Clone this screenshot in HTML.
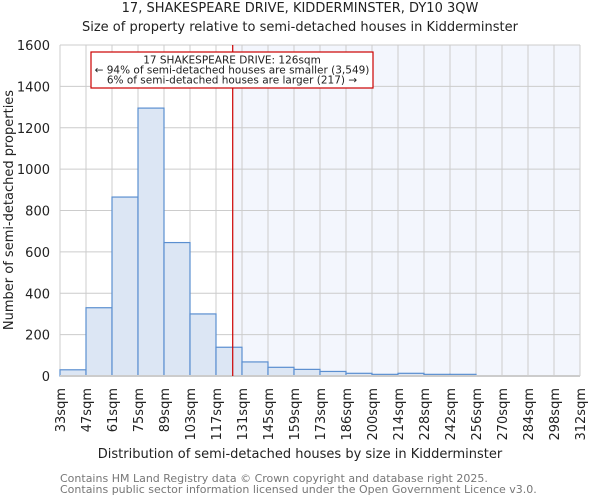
<!DOCTYPE html>
<html><head><meta charset="utf-8"><style>
body{margin:0;background:#fff;}
svg{display:block;font-family:"DejaVu Sans","Liberation Sans",sans-serif;}
</style></head><body>
<svg id="c" width="600" height="500">
<text x="300" y="12" font-size="13" text-anchor="middle" fill="#222">17, SHAKESPEARE DRIVE, KIDDERMINSTER, DY10 3QW</text>
<text x="300" y="31" font-size="13" text-anchor="middle" fill="#222">Size of property relative to semi-detached houses in Kidderminster</text>
<g id="grid"></g><g id="bars"></g><g id="axes"></g>
<text x="300" y="458" font-size="13" text-anchor="middle" fill="#222">Distribution of semi-detached houses by size in Kidderminster</text>
<text transform="translate(13,210) rotate(-90)" font-size="13" text-anchor="middle" fill="#222">Number of semi-detached properties</text>
<text x="60" y="482" font-size="11" fill="#777">Contains HM Land Registry data © Crown copyright and database right 2025.</text>
<text x="60" y="493" font-size="11" fill="#777">Contains public sector information licensed under the Open Government Licence v3.0.</text>
</svg>
<script>
const categories=["33sqm","47sqm","61sqm","75sqm","89sqm","103sqm","117sqm","131sqm","145sqm","159sqm","173sqm","186sqm","200sqm","214sqm","228sqm","242sqm","256sqm","270sqm","284sqm","298sqm","312sqm"];
const counts=[30,330,865,1295,645,300,139,68,42,32,22,13,8,13,8,8,0,0,0,0,0];
const yTicks=[0,200,400,600,800,1000,1200,1400,1600];
const subjectSize=126;
const ns="http://www.w3.org/2000/svg";
const X0=60,X1=580,Y0=376,Y1=45,YMAX=1600,NB=20;
const bw=(X1-X0)/NB;
const xs=i=>X0+i*bw;
const ys=v=>Y0-(v/YMAX)*(Y0-Y1);
const sizeX=s=>{const e=categories.map(c=>parseFloat(c));for(let i=0;i<e.length-1;i++){if(s>=e[i]&&s<=e[i+1])return xs(i)+(s-e[i])/(e[i+1]-e[i])*bw;}return X1;};
function mk(t,a,p){const e=document.createElementNS(ns,t);for(const k in a)e.setAttribute(k,a[k]);p.appendChild(e);return e;}
const g=document.getElementById('grid'),b=document.getElementById('bars'),ax=document.getElementById('axes');
const rx=sizeX(subjectSize);
const hl=mk('rect',{x:rx,y:Y1,width:X1-rx,height:Y0-Y1,fill:'#f3f6fd'},g);


for(let i=0;i<=NB;i++){const l=mk('line',{x1:xs(i),x2:xs(i),y1:Y1,y2:Y0,stroke:'#ccc','stroke-width':1},g);

}
yTicks.forEach(v=>{const l=mk('line',{x1:X0,x2:X1,y1:ys(v),y2:ys(v),stroke:'#ccc','stroke-width':1},g);


const t=mk('text',{x:X0-10,y:ys(v)+5,'font-size':13,'text-anchor':'end',fill:'#222'},ax);t.textContent=v;

});
counts.forEach((v,i)=>{if(i>=NB||v<=0)return;const r=mk('rect',{x:xs(i),y:ys(v),width:bw,height:Y0-ys(v),fill:'#dce6f4',stroke:'#5b8fd0','stroke-width':1.2},b);

});
const bl=mk('line',{x1:X0,x2:X1,y1:Y0,y2:Y0,stroke:'#ccc','stroke-width':2},ax);


categories.forEach((c,i)=>{const t=mk('text',{transform:`translate(${xs(i)+5},388) rotate(-90)`,'font-size':13,'text-anchor':'end',fill:'#222'},ax);t.textContent=c;

});
const ml=mk('line',{x1:rx,x2:rx,y1:Y1,y2:Y0,stroke:'#c00','stroke-width':1.2},ax);


const box=mk('rect',{x:91,y:52,width:282,height:36,fill:'#fff',stroke:'#c00','stroke-width':1.2},ax);


[["17 SHAKESPEARE DRIVE: 126sqm",63.5],["← 94% of semi-detached houses are smaller (3,549)",73.5],["6% of semi-detached houses are larger (217) →",83.5]].forEach(([s,y])=>{const t=mk('text',{x:232,y:y,'font-size':10.5,'text-anchor':'middle',fill:'#222'},ax);t.textContent=s;

});
</script>
</body></html>
